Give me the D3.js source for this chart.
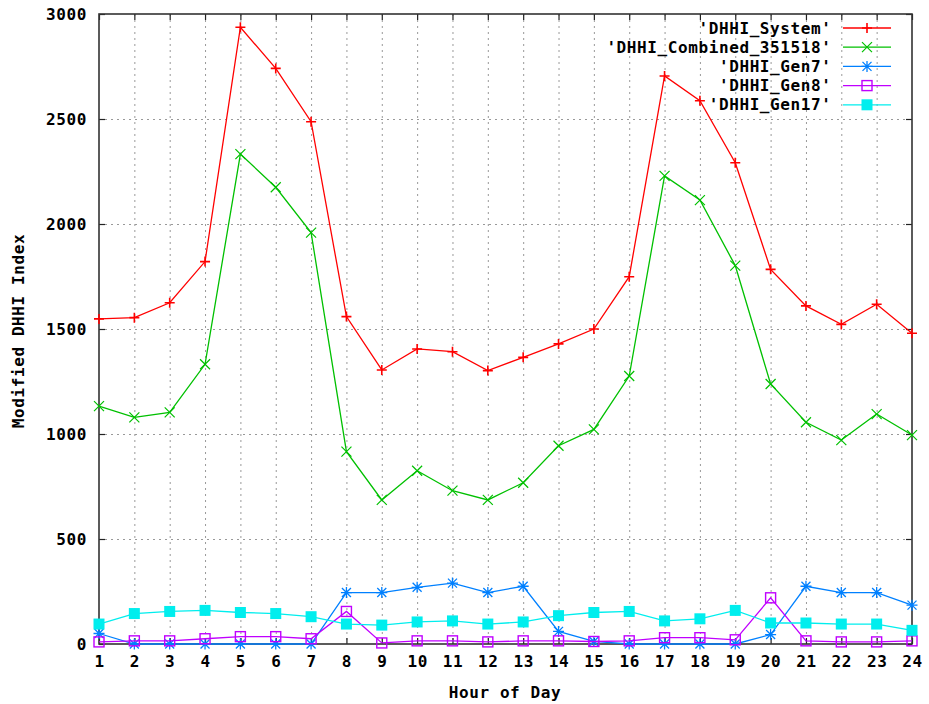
<!DOCTYPE html>
<html>
<head>
<meta charset="utf-8">
<script src="https://cdn.jsdelivr.net/npm/d3@7"></script>
<style>
  html, body { margin: 0; padding: 0; background: #fff; }
  svg text { font-family: "DejaVu Sans Mono", monospace; font-weight: bold; font-size: 16px; letter-spacing: 0.6px; fill: #000; }
</style>
</head>
<body>
<svg id="chart" width="929" height="704"></svg>
<script>
// Hour of day on the x axis
const hours = [1, 2, 3, 4, 5, 6, 7, 8, 9, 10, 11, 12, 13, 14, 15, 16, 17, 18, 19, 20, 21, 22, 23, 24];
const yTicks = [0, 500, 1000, 1500, 2000, 2500, 3000];

// Modified DHHI index per hour, one array per series
const dhhiSystem   = [1548, 1554, 1625, 1821, 2937, 2741, 2487, 1559, 1305, 1405, 1392, 1302, 1365, 1429, 1500, 1749, 2705, 2587, 2292, 1784, 1610, 1522, 1618, 1480];
const dhhiCombined = [1133, 1079, 1103, 1332, 2333, 2175, 1959, 916, 686, 825, 730, 686, 768, 944, 1022, 1276, 2229, 2114, 1802, 1238, 1056, 971, 1095, 995];
const dhhiGen7     = [50, 0, 0, 0, 0, 0, 0, 245, 245, 270, 290, 245, 275, 60, 12, 0, 0, 0, 0, 45, 275, 245, 245, 185];
const dhhiGen8     = [10, 15, 15, 25, 35, 35, 25, 155, 5, 15, 15, 10, 15, 15, 12, 15, 30, 30, 20, 220, 15, 10, 10, 15];
const dhhiGen17    = [95, 145, 155, 160, 150, 145, 130, 95, 90, 105, 110, 95, 105, 135, 150, 155, 110, 120, 160, 100, 100, 95, 95, 65];

const seriesNames = ["'DHHI_System'", "'DHHI_Combined_351518'", "'DHHI_Gen7'", "'DHHI_Gen8'", "'DHHI_Gen17'"];
const seriesValues = [dhhiSystem, dhhiCombined, dhhiGen7, dhhiGen8, dhhiGen17];
const seriesColors = ["#ff0000", "#00c000", "#0080ff", "#c000ff", "#00eeee"];
const seriesMarkers = ["plus", "cross", "star", "box", "boxfill"];

(function () {
  const svg = d3.select("#chart");
  const plotLeft = 99, plotRight = 912, plotTop = 14, plotBottom = 644;

  const x = d3.scaleLinear().domain([1, 24]).range([plotLeft, plotRight]);
  const y = d3.scaleLinear().domain([0, 3000]).range([plotBottom, plotTop]);

  // grid
  const grid = svg.append("g").attr("stroke", "#999").attr("stroke-width", 1).attr("stroke-dasharray", "2,4");
  grid.selectAll("line.v").data(hours.slice(1, -1)).join("line")
    .attr("x1", d => x(d) + 0.5).attr("x2", d => x(d) + 0.5)
    .attr("y1", plotTop).attr("y2", plotBottom);
  grid.selectAll("line.h").data(yTicks.slice(1, -1)).join("line")
    .attr("y1", d => y(d) + 0.5).attr("y2", d => y(d) + 0.5)
    .attr("x1", plotLeft).attr("x2", plotRight);

  // axes (ticks point inward, mirrored on the opposite sides)
  const tickLen = 6;
  const xAxis = d3.axisBottom(x).tickValues(hours).tickFormat(d3.format("d")).tickSize(-tickLen).tickPadding(12);
  const yAxis = d3.axisLeft(y).tickValues(yTicks).tickFormat(d3.format("d")).tickSize(-tickLen).tickPadding(12);
  const xAxisTop = d3.axisTop(x).tickValues(hours).tickFormat("").tickSize(-tickLen);
  const yAxisRight = d3.axisRight(y).tickValues(yTicks).tickFormat("").tickSize(-tickLen);

  function styleAxis(g) {
    g.select(".domain").remove();
    g.selectAll(".tick line").attr("stroke", "#222").attr("stroke-width", 1.2);
    g.selectAll(".tick text").attr("font-family", null).attr("font-size", null).attr("fill", "#000");
  }
  svg.append("g").attr("transform", `translate(0,${plotBottom})`).call(xAxis).call(styleAxis);
  svg.append("g").attr("transform", `translate(${plotLeft},0)`).call(yAxis).call(styleAxis);
  svg.append("g").attr("transform", `translate(0,${plotTop})`).call(xAxisTop).call(styleAxis);
  svg.append("g").attr("transform", `translate(${plotRight},0)`).call(yAxisRight).call(styleAxis);

  // plot border
  svg.append("rect").attr("x", plotLeft).attr("y", plotTop)
    .attr("width", plotRight - plotLeft).attr("height", plotBottom - plotTop)
    .attr("fill", "none").attr("stroke", "#333").attr("stroke-width", 1.6);

  // axis titles
  svg.append("text").attr("x", 505).attr("y", 692).attr("text-anchor", "middle").attr("dominant-baseline", "central")
    .text("Hour of Day");
  svg.append("text").attr("transform", "translate(18,331) rotate(-90)").attr("text-anchor", "middle")
    .attr("dominant-baseline", "central").text("Modified DHHI Index");

  // point markers
  function drawMarker(g, type, cx, cy, color) {
    const s = 5;
    if (type === "plus") {
      g.append("path").attr("d", `M${cx - s},${cy}H${cx + s}M${cx},${cy - s}V${cy + s}`)
        .attr("stroke", color).attr("stroke-width", 1.6).attr("fill", "none");
    } else if (type === "cross") {
      g.append("path").attr("d", `M${cx - s},${cy - s}L${cx + s},${cy + s}M${cx - s},${cy + s}L${cx + s},${cy - s}`)
        .attr("stroke", color).attr("stroke-width", 1.2).attr("fill", "none");
    } else if (type === "star") {
      const t = 5.5;
      g.append("path").attr("d", `M${cx - t},${cy}H${cx + t}M${cx},${cy - t}V${cy + t}M${cx - t + 1},${cy - t + 1}L${cx + t - 1},${cy + t - 1}M${cx - t + 1},${cy + t - 1}L${cx + t - 1},${cy - t + 1}`)
        .attr("stroke", color).attr("stroke-width", 1.3).attr("fill", "none");
    } else if (type === "box") {
      g.append("rect").attr("x", cx - s).attr("y", cy - s).attr("width", 2 * s).attr("height", 2 * s)
        .attr("stroke", color).attr("stroke-width", 1.4).attr("fill", "none");
    } else if (type === "boxfill") {
      const b = 5.5;
      g.append("rect").attr("x", cx - b).attr("y", cy - b).attr("width", 2 * b).attr("height", 2 * b)
        .attr("fill", color);
    }
  }

  const line = d3.line().x((d, i) => x(hours[i])).y(d => y(d));

  seriesValues.forEach((vals, k) => {
    const g = svg.append("g");
    g.append("path").datum(vals).attr("d", line)
      .attr("fill", "none").attr("stroke", seriesColors[k]).attr("stroke-width", 1.3);
    vals.forEach((v, i) => drawMarker(g, seriesMarkers[k], x(hours[i]), y(v), seriesColors[k]));
  });

  // legend
  const legend = svg.append("g");
  seriesNames.forEach((name, k) => {
    const ly = 28 + k * 19.2;
    legend.append("text").attr("x", 831.5).attr("y", ly).attr("text-anchor", "end")
      .attr("dominant-baseline", "central").text(name);
    legend.append("line").attr("x1", 843).attr("x2", 891).attr("y1", ly).attr("y2", ly)
      .attr("stroke", seriesColors[k]).attr("stroke-width", 1.3);
    drawMarker(legend, seriesMarkers[k], 867, ly, seriesColors[k]);
  });
})();
</script>
</body>
</html>
